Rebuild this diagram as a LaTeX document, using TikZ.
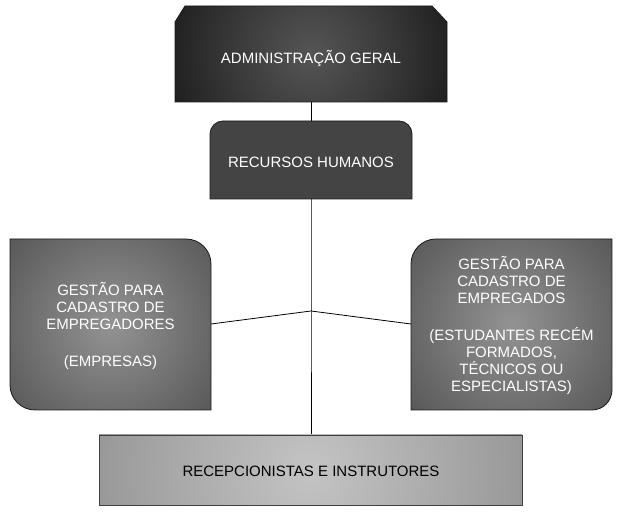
\documentclass[tikz,border=0pt]{standalone}
\usepackage{fontspec}
\setmainfont{Liberation Sans}
\definecolor{rhgray}{HTML}{444444}
\definecolor{boxline}{HTML}{1A1A1A}
\definecolor{sideinner}{HTML}{939393}
\definecolor{sidemid}{HTML}{3A3A3A}
\definecolor{sideouter}{HTML}{222222}
\definecolor{admininner}{HTML}{555555}
\definecolor{adminmid}{HTML}{3A3A3A}
\definecolor{adminlow}{HTML}{141414}
\definecolor{adminouter}{HTML}{000000}
\definecolor{botinner}{HTML}{C4C4C4}
\definecolor{botouter}{HTML}{6E6E6E}
\pgfdeclareradialshading{sideshade}{\pgfpoint{0bp}{0bp}}{color(0bp)=(sideinner); color(50bp)=(sidemid); color(66bp)=(sideouter); color(71bp)=(sideouter)}
\pgfdeclareradialshading{adminshade}{\pgfpoint{0bp}{0bp}}{color(0bp)=(admininner); color(14bp)=(adminmid); color(32bp)=(adminlow); color(46bp)=(adminouter); color(71bp)=(adminouter)}
\pgfdeclareradialshading{botshade}{\pgfpoint{0bp}{0bp}}{color(0bp)=(botinner); color(50bp)=(botouter); color(71bp)=(botouter)}
\begin{document}
\begin{tikzpicture}[x=1pt,y=1pt,
  boxborder/.style={draw=boxline,line width=0.8pt},
  lbl/.style={text=white,font=\fontsize{15}{17}\selectfont,align=center,inner sep=0pt},
  lbldark/.style={text=black,font=\fontsize{15}{17}\selectfont,align=center,inner sep=0pt},
  link/.style={draw=black,line width=0.8pt}]
\useasboundingbox (0,0) rectangle (622,512);

% anchor coordinates
\coordinate (adminB) at (311,410);
\coordinate (rhT) at (311,391);
\coordinate (rhB) at (311,313);
\coordinate (junc) at (311,201);
\coordinate (leftE) at (211,188);
\coordinate (rightW) at (411,188);
\coordinate (botT) at (311,77);

% connectors (behind boxes)
\draw[link] (adminB) -- (rhT);
\draw[link] (rhB) -- (junc) -- (botT);
\draw[link] (leftE) -- (junc) -- (rightW);

% Administracao geral
\begin{scope}
  \clip (175,490) -- (185,506) -- (432,506) -- (447,490) -- (447,410) -- (175,410) -- cycle;
  \path[shading=adminshade] (175,322) rectangle (447,594);
\end{scope}
\path[boxborder]
  (175,490) -- (185,506) -- (432,506) -- (447,490) -- (447,410) -- (175,410) -- cycle;
\node[lbl] (admin) at (311,453) {ADMINISTRAÇÃO GERAL};

% Recursos humanos
\path[boxborder,fill=rhgray]
  (210,313) -- (210,378) arc[start angle=180,end angle=90,radius=13]
  -- (399,391) arc[start angle=90,end angle=0,radius=13] -- (412,313) -- cycle;
\node[lbl] (rh) at (311,350) {RECURSOS HUMANOS};

% Left box
\begin{scope}
  \clip (10,273) -- (186,273) arc[start angle=90,end angle=0,radius=25]
    -- (211,102) -- (35,102) arc[start angle=270,end angle=180,radius=25] -- cycle;
  \path[shading=sideshade] (10,87) rectangle (211,288);
\end{scope}
\path[boxborder]
  (10,273) -- (186,273) arc[start angle=90,end angle=0,radius=25]
  -- (211,102) -- (35,102) arc[start angle=270,end angle=180,radius=25] -- cycle;
\node[lbl] (left) at (110.5,186) {GESTÃO PARA\\CADASTRO DE\\EMPREGADORES\\[20pt](EMPRESAS)};

% Right box
\begin{scope}
  \clip (411,102) -- (411,248) arc[start angle=180,end angle=90,radius=25]
    -- (612,273) -- (612,122) arc[start angle=0,end angle=-90,radius=20] -- cycle;
  \path[shading=sideshade] (411,87) rectangle (612,288);
\end{scope}
\path[boxborder]
  (411,102) -- (411,248) arc[start angle=180,end angle=90,radius=25]
  -- (612,273) -- (612,122) arc[start angle=0,end angle=-90,radius=20] -- cycle;
\node[lbl] (right) at (511.5,187) {GESTÃO PARA\\CADASTRO DE\\EMPREGADOS\\[20pt](ESTUDANTES RECÉM\\FORMADOS,\\TÉCNICOS OU\\ESPECIALISTAS)};

% Bottom box
\begin{scope}
  \clip (99,7) rectangle (522,77);
  \path[shading=botshade] (99,-169.5) rectangle (522,253.5);
\end{scope}
\path[boxborder,draw=black!75] (99,7) rectangle (522,77);
\node[lbldark] (bot) at (311,41) {RECEPCIONISTAS E INSTRUTORES};
\end{tikzpicture}
\end{document}
